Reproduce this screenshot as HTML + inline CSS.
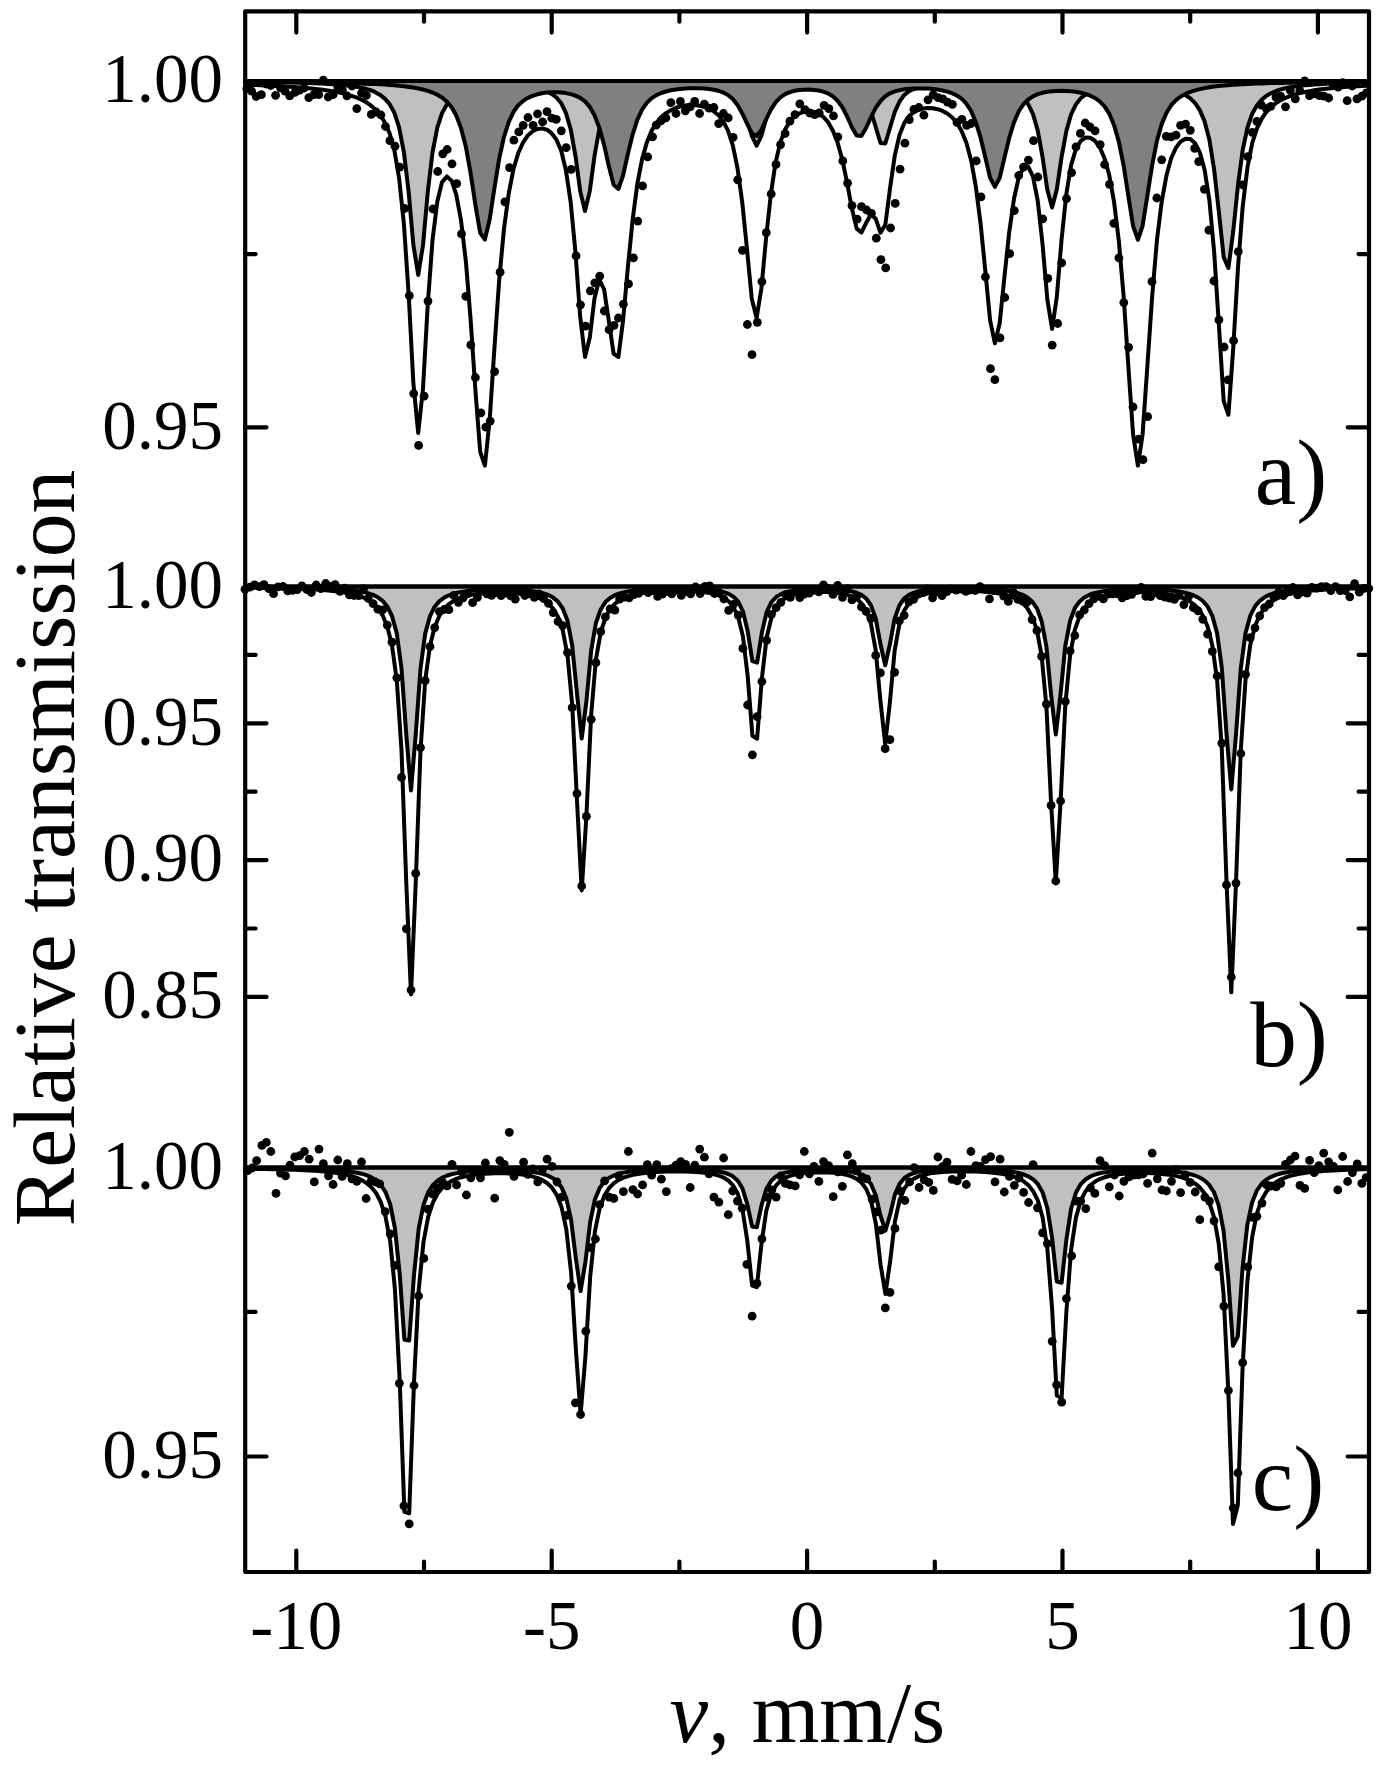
<!DOCTYPE html>
<html lang="en"><head><meta charset="utf-8"><title>Relative transmission spectra</title>
<style>
html,body{margin:0;padding:0;background:#fff}
body{width:1383px;height:1770px;overflow:hidden;font-family:"Liberation Serif",serif}
svg{display:block}
text{fill:#000}
</style></head><body>
<svg width="1383" height="1770" viewBox="0 0 1383 1770">
<rect width="1383" height="1770" fill="#fff"/>
<g id="pa">
<path d="M245.2,81.9 L246.6,81.9 L251.4,82.0 L256.2,82.0 L260.9,82.1 L265.7,82.1 L270.5,82.2 L275.2,82.3 L280.0,82.3 L284.8,82.4 L289.5,82.5 L294.3,82.6 L299.0,82.7 L303.8,82.9 L308.6,83.0 L313.3,83.2 L318.1,83.4 L322.9,83.6 L327.6,83.9 L332.4,84.2 L337.2,84.5 L341.9,84.9 L346.7,85.4 L351.5,86.0 L356.2,86.7 L361.0,87.6 L365.8,88.8 L370.5,90.2 L375.3,92.2 L380.1,94.9 L384.8,98.6 L389.6,104.1 L394.4,112.8 L399.1,127.4 L403.9,152.3 L408.7,192.5 L413.4,245.1 L418.2,275.0 L423.0,245.2 L427.7,192.6 L432.5,152.5 L437.3,127.7 L442.0,113.2 L446.8,104.5 L451.6,99.1 L456.3,95.4 L461.1,92.8 L465.9,91.0 L470.6,89.6 L475.4,88.6 L480.2,87.8 L484.9,87.2 L489.7,86.8 L494.5,86.5 L499.2,86.3 L504.0,86.2 L508.8,86.2 L513.5,86.2 L518.3,86.4 L523.1,86.7 L527.8,87.2 L532.6,87.8 L537.4,88.6 L542.1,89.8 L546.9,91.5 L551.6,93.9 L556.4,97.5 L561.2,103.2 L565.9,112.9 L570.7,129.4 L575.5,156.1 L580.2,191.1 L585.0,211.0 L589.8,191.1 L594.5,156.0 L599.3,129.2 L604.1,112.7 L608.8,103.0 L613.6,97.2 L618.4,93.5 L623.1,91.0 L627.9,89.3 L632.7,88.0 L637.4,87.1 L642.2,86.4 L647.0,85.8 L651.7,85.4 L656.5,85.0 L661.3,84.8 L666.0,84.6 L670.8,84.5 L675.6,84.4 L680.3,84.3 L685.1,84.4 L689.9,84.4 L694.6,84.6 L699.4,84.8 L704.2,85.1 L708.9,85.5 L713.7,86.1 L718.5,86.9 L723.2,88.1 L728.0,89.8 L732.8,92.6 L737.5,97.4 L742.3,105.5 L747.1,118.6 L751.8,135.8 L756.6,145.6 L761.4,135.8 L766.1,118.7 L770.9,105.5 L775.6,97.5 L780.4,92.7 L785.2,89.9 L789.9,88.2 L794.7,87.1 L799.5,86.3 L804.2,85.8 L809.0,85.4 L813.8,85.2 L818.5,85.2 L823.3,85.2 L828.1,85.3 L832.8,85.6 L837.6,86.0 L842.4,86.7 L847.1,87.6 L851.9,89.0 L856.7,91.2 L861.4,94.8 L866.2,100.9 L871.0,111.3 L875.7,127.0 L880.5,143.0 L885.3,143.5 L890.0,127.8 L894.8,111.9 L899.6,101.3 L904.3,95.0 L909.1,91.2 L913.9,89.0 L918.6,87.5 L923.4,86.6 L928.2,85.9 L932.9,85.4 L937.7,85.0 L942.5,84.8 L947.2,84.7 L952.0,84.6 L956.8,84.5 L961.5,84.6 L966.3,84.7 L971.1,84.8 L975.8,85.0 L980.6,85.3 L985.4,85.6 L990.1,86.1 L994.9,86.6 L999.7,87.4 L1004.4,88.4 L1009.2,89.8 L1014.0,91.6 L1018.7,94.2 L1023.5,98.0 L1028.2,104.1 L1033.0,114.1 L1037.8,130.8 L1042.5,156.8 L1047.3,189.5 L1052.1,207.5 L1056.8,189.6 L1061.6,156.9 L1066.4,130.9 L1071.1,114.3 L1075.9,104.4 L1080.7,98.3 L1085.4,94.6 L1090.2,92.0 L1095.0,90.3 L1099.7,89.0 L1104.5,88.1 L1109.3,87.4 L1114.0,86.9 L1118.8,86.6 L1123.6,86.4 L1128.3,86.2 L1133.1,86.2 L1137.9,86.3 L1142.6,86.4 L1147.4,86.6 L1152.2,87.0 L1156.9,87.4 L1161.7,88.0 L1166.5,88.8 L1171.2,89.8 L1176.0,91.1 L1180.8,92.8 L1185.5,95.1 L1190.3,98.4 L1195.1,103.1 L1199.8,110.1 L1204.6,121.4 L1209.4,139.7 L1214.1,169.2 L1218.9,212.1 L1223.7,257.2 L1228.4,267.9 L1233.2,231.6 L1238.0,184.9 L1242.7,149.9 L1247.5,127.5 L1252.2,113.7 L1257.0,105.2 L1261.8,99.6 L1266.5,95.8 L1271.3,93.1 L1276.1,91.0 L1280.8,89.4 L1285.6,88.2 L1290.4,87.3 L1295.1,86.5 L1299.9,85.8 L1304.7,85.3 L1309.4,84.9 L1314.2,84.5 L1319.0,84.2 L1323.7,83.9 L1328.5,83.6 L1333.3,83.4 L1338.0,83.2 L1342.8,83.1 L1347.6,82.9 L1352.3,82.8 L1357.1,82.7 L1361.9,82.6 L1366.6,82.5 L1369.0,82.4 L1369.0,81.0 L245.2,81.0 Z" fill="#c0c0c0" stroke="#000" stroke-width="4.0" stroke-linejoin="round"/>
<path d="M245.2,81.8 L246.6,81.8 L251.4,81.9 L256.2,81.9 L260.9,81.9 L265.7,81.9 L270.5,82.0 L275.2,82.0 L280.0,82.1 L284.8,82.1 L289.5,82.1 L294.3,82.2 L299.0,82.2 L303.8,82.3 L308.6,82.4 L313.3,82.4 L318.1,82.5 L322.9,82.6 L327.6,82.7 L332.4,82.7 L337.2,82.8 L341.9,82.9 L346.7,83.1 L351.5,83.2 L356.2,83.3 L361.0,83.5 L365.8,83.7 L370.5,83.9 L375.3,84.1 L380.1,84.3 L384.8,84.6 L389.6,85.0 L394.4,85.3 L399.1,85.8 L403.9,86.3 L408.7,86.9 L413.4,87.6 L418.2,88.5 L423.0,89.5 L427.7,90.9 L432.5,92.5 L437.3,94.7 L442.0,97.5 L446.8,101.5 L451.6,107.2 L456.3,115.6 L461.1,128.4 L465.9,147.1 L470.6,173.1 L475.4,204.9 L480.2,232.9 L484.9,239.5 L489.7,219.3 L494.5,187.6 L499.2,158.6 L504.0,136.8 L508.8,121.8 L513.5,111.8 L518.3,105.2 L523.1,100.9 L527.8,97.9 L532.6,95.8 L537.4,94.3 L542.1,93.3 L546.9,92.6 L551.6,92.3 L556.4,92.2 L561.2,92.5 L565.9,93.1 L570.7,94.1 L575.5,95.6 L580.2,97.9 L585.0,101.4 L589.8,106.9 L594.5,115.2 L599.3,127.6 L604.1,144.9 L608.8,166.0 L613.6,184.7 L618.4,189.0 L623.1,175.3 L627.9,153.9 L632.7,134.3 L637.4,119.6 L642.2,109.4 L647.0,102.6 L651.7,98.1 L656.5,95.1 L661.3,93.0 L666.0,91.5 L670.8,90.3 L675.6,89.5 L680.3,88.9 L685.1,88.5 L689.9,88.3 L694.6,88.2 L699.4,88.3 L704.2,88.5 L708.9,89.0 L713.7,89.7 L718.5,90.8 L723.2,92.4 L728.0,95.0 L732.8,99.0 L737.5,105.0 L742.3,113.4 L747.1,123.7 L751.8,133.2 L756.6,136.0 L761.4,129.8 L766.1,119.4 L770.9,109.7 L775.6,102.4 L780.4,97.4 L785.2,94.1 L789.9,92.1 L794.7,90.8 L799.5,90.0 L804.2,89.7 L809.0,89.6 L813.8,89.9 L818.5,90.5 L823.3,91.6 L828.1,93.5 L832.8,96.3 L837.6,100.8 L842.4,107.4 L847.1,116.5 L851.9,127.2 L856.7,135.6 L861.4,135.9 L866.2,127.8 L871.0,117.1 L875.7,107.8 L880.5,101.0 L885.3,96.3 L890.0,93.3 L894.8,91.4 L899.6,90.1 L904.3,89.3 L909.1,88.7 L913.9,88.5 L918.6,88.4 L923.4,88.4 L928.2,88.6 L932.9,89.0 L937.7,89.6 L942.5,90.5 L947.2,91.6 L952.0,93.2 L956.8,95.5 L961.5,98.7 L966.3,103.6 L971.1,111.0 L975.8,122.1 L980.6,137.7 L985.4,157.7 L990.1,177.7 L994.9,186.9 L999.7,177.8 L1004.4,157.9 L1009.2,138.0 L1014.0,122.4 L1018.7,111.5 L1023.5,104.2 L1028.2,99.5 L1033.0,96.3 L1037.8,94.2 L1042.5,92.8 L1047.3,91.8 L1052.1,91.2 L1056.8,90.9 L1061.6,90.8 L1066.4,90.9 L1071.1,91.2 L1075.9,91.8 L1080.7,92.7 L1085.4,93.9 L1090.2,95.7 L1095.0,98.0 L1099.7,101.4 L1104.5,106.3 L1109.3,113.7 L1114.0,124.9 L1118.8,141.6 L1123.6,165.3 L1128.3,195.7 L1133.1,226.0 L1137.9,239.8 L1142.6,225.9 L1147.4,195.4 L1152.2,164.8 L1156.9,141.0 L1161.7,124.1 L1166.5,112.8 L1171.2,105.2 L1176.0,100.1 L1180.8,96.5 L1185.5,93.9 L1190.3,91.9 L1195.1,90.4 L1199.8,89.1 L1204.6,88.1 L1209.4,87.3 L1214.1,86.6 L1218.9,86.1 L1223.7,85.6 L1228.4,85.2 L1233.2,84.8 L1238.0,84.5 L1242.7,84.2 L1247.5,84.0 L1252.2,83.8 L1257.0,83.6 L1261.8,83.4 L1266.5,83.3 L1271.3,83.1 L1276.1,83.0 L1280.8,82.9 L1285.6,82.8 L1290.4,82.7 L1295.1,82.6 L1299.9,82.5 L1304.7,82.5 L1309.4,82.4 L1314.2,82.3 L1319.0,82.3 L1323.7,82.2 L1328.5,82.2 L1333.3,82.1 L1338.0,82.1 L1342.8,82.0 L1347.6,82.0 L1352.3,82.0 L1357.1,81.9 L1361.9,81.9 L1366.6,81.9 L1369.0,81.8 L1369.0,81.0 L245.2,81.0 Z" fill="#808080" stroke="#000" stroke-width="4.0" stroke-linejoin="round"/>
<path d="M245.2,84.8 L246.6,84.8 L251.4,85.0 L256.2,85.1 L260.9,85.3 L265.7,85.5 L270.5,85.7 L275.2,85.9 L280.0,86.2 L284.8,86.4 L289.5,86.7 L294.3,87.0 L299.0,87.4 L303.8,87.8 L308.6,88.2 L313.3,88.7 L318.1,89.2 L322.9,89.8 L327.6,90.5 L332.4,91.2 L337.2,92.1 L341.9,93.1 L346.7,94.3 L351.5,95.8 L356.2,97.4 L361.0,99.5 L365.8,102.0 L370.5,105.2 L375.3,109.4 L380.1,114.8 L384.8,122.3 L389.6,133.3 L394.4,150.3 L399.1,178.1 L403.9,223.9 L408.7,294.9 L413.4,383.5 L418.2,433.0 L423.0,388.6 L427.7,305.4 L432.5,240.3 L437.3,201.5 L442.0,182.3 L446.8,176.4 L451.6,180.7 L456.3,194.9 L461.1,220.9 L465.9,261.7 L470.6,319.5 L475.4,390.2 L480.2,451.8 L484.9,465.6 L489.7,419.6 L494.5,347.0 L499.2,279.9 L504.0,228.8 L508.8,193.0 L513.5,168.9 L518.3,152.9 L523.1,142.4 L527.8,135.5 L532.6,131.2 L537.4,128.9 L542.1,128.4 L546.9,129.7 L551.6,133.2 L556.4,139.6 L561.2,150.8 L565.9,170.1 L570.7,202.4 L575.5,252.8 L580.2,316.8 L585.0,357.0 L589.8,337.6 L594.5,298.2 L599.3,279.6 L604.1,289.4 L608.8,320.7 L613.6,353.6 L618.4,357.0 L623.1,320.2 L627.9,266.9 L632.7,219.2 L637.4,183.5 L642.2,158.7 L647.0,141.9 L651.7,130.5 L656.5,122.7 L661.3,117.1 L666.0,113.1 L670.8,110.2 L675.6,108.0 L680.3,106.5 L685.1,105.6 L689.9,105.1 L694.6,105.1 L699.4,105.7 L704.2,106.8 L708.9,108.6 L713.7,111.3 L718.5,115.3 L723.2,121.4 L728.0,130.7 L732.8,145.3 L737.5,168.2 L742.3,202.8 L747.1,250.1 L751.8,299.1 L756.6,318.0 L761.4,288.5 L766.1,237.9 L770.9,193.7 L775.6,162.4 L780.4,142.1 L785.2,129.3 L789.9,121.4 L794.7,116.4 L799.5,113.4 L804.2,111.8 L809.0,111.3 L813.8,111.8 L818.5,113.6 L823.3,116.9 L828.1,122.2 L832.8,130.4 L837.6,142.6 L842.4,160.0 L847.1,182.9 L851.9,208.6 L856.7,228.6 L861.4,232.5 L866.2,222.8 L871.0,214.2 L875.7,218.7 L880.5,232.8 L885.3,224.9 L890.0,188.5 L894.8,155.4 L899.6,134.7 L904.3,122.9 L909.1,116.1 L913.9,112.1 L918.6,109.7 L923.4,108.4 L928.2,107.9 L932.9,108.2 L937.7,109.2 L942.5,110.9 L947.2,113.5 L952.0,117.3 L956.8,122.8 L961.5,130.7 L966.3,142.5 L971.1,160.2 L975.8,186.4 L980.6,223.7 L985.4,271.8 L990.1,320.4 L994.9,343.4 L999.7,323.0 L1004.4,277.2 L1009.2,232.2 L1014.0,198.8 L1018.7,177.7 L1023.5,167.3 L1028.2,166.6 L1033.0,176.7 L1037.8,201.2 L1042.5,243.9 L1047.3,299.1 L1052.1,329.0 L1056.8,296.9 L1061.6,239.2 L1066.4,193.6 L1071.1,165.1 L1075.9,149.1 L1080.7,140.9 L1085.4,137.6 L1090.2,137.7 L1095.0,140.8 L1099.7,147.3 L1104.5,158.2 L1109.3,175.3 L1114.0,201.6 L1118.8,240.7 L1123.6,295.8 L1128.3,365.7 L1133.1,434.6 L1137.9,465.6 L1142.6,434.5 L1147.4,365.7 L1152.2,295.8 L1156.9,240.6 L1161.7,201.6 L1166.5,175.3 L1171.2,158.3 L1176.0,147.6 L1180.8,141.4 L1185.5,138.7 L1190.3,139.1 L1195.1,143.2 L1199.8,152.4 L1204.6,169.7 L1209.4,200.4 L1214.1,251.2 L1218.9,325.3 L1223.7,401.2 L1228.4,414.8 L1233.2,348.8 L1238.0,267.3 L1242.7,206.4 L1247.5,167.2 L1252.2,143.2 L1257.0,128.3 L1261.8,118.5 L1266.5,111.7 L1271.3,106.8 L1276.1,103.0 L1280.8,100.1 L1285.6,97.8 L1290.4,95.9 L1295.1,94.4 L1299.9,93.1 L1304.7,92.0 L1309.4,91.1 L1314.2,90.3 L1319.0,89.6 L1323.7,89.0 L1328.5,88.5 L1333.3,88.0 L1338.0,87.6 L1342.8,87.2 L1347.6,86.8 L1352.3,86.5 L1357.1,86.2 L1361.9,86.0 L1366.6,85.7 L1369.0,85.6" fill="none" stroke="#000" stroke-width="4.0" stroke-linejoin="round"/>
<g fill="#000"><circle cx="246.8" cy="88.5" r="4.4"/><circle cx="251.6" cy="91.2" r="4.4"/><circle cx="256.2" cy="96.4" r="4.4"/><circle cx="261.4" cy="94.7" r="4.4"/><circle cx="266.0" cy="84.0" r="4.4"/><circle cx="270.7" cy="85.5" r="4.4"/><circle cx="275.6" cy="95.3" r="4.4"/><circle cx="280.5" cy="87.8" r="4.4"/><circle cx="285.1" cy="91.2" r="4.4"/><circle cx="289.7" cy="95.9" r="4.4"/><circle cx="295.0" cy="92.4" r="4.4"/><circle cx="299.6" cy="90.1" r="4.4"/><circle cx="304.2" cy="88.0" r="4.4"/><circle cx="308.8" cy="97.6" r="4.4"/><circle cx="314.0" cy="94.7" r="4.4"/><circle cx="318.7" cy="94.7" r="4.4"/><circle cx="323.3" cy="80.2" r="4.4"/><circle cx="328.2" cy="97.0" r="4.4"/><circle cx="333.1" cy="94.7" r="4.4"/><circle cx="337.8" cy="87.8" r="4.4"/><circle cx="342.4" cy="90.1" r="4.4"/><circle cx="347.0" cy="95.9" r="4.4"/><circle cx="352.0" cy="86.0" r="4.4"/><circle cx="356.8" cy="108.6" r="4.4"/><circle cx="361.5" cy="93.0" r="4.4"/><circle cx="366.4" cy="95.3" r="4.4"/><circle cx="371.3" cy="114.4" r="4.4"/><circle cx="376.1" cy="112.0" r="4.4"/><circle cx="380.9" cy="115.0" r="4.4"/><circle cx="385.5" cy="126.5" r="4.4"/><circle cx="389.9" cy="140.7" r="4.4"/><circle cx="395.0" cy="146.2" r="4.4"/><circle cx="399.8" cy="167.1" r="4.4"/><circle cx="404.7" cy="208.5" r="4.4"/><circle cx="409.3" cy="295.6" r="4.4"/><circle cx="413.7" cy="393.6" r="4.4"/><circle cx="418.6" cy="445.4" r="4.4"/><circle cx="424.1" cy="396.2" r="4.4"/><circle cx="428.0" cy="301.1" r="4.4"/><circle cx="432.9" cy="209.0" r="4.4"/><circle cx="437.7" cy="171.5" r="4.4"/><circle cx="442.8" cy="153.9" r="4.4"/><circle cx="447.2" cy="149.5" r="4.4"/><circle cx="452.0" cy="163.8" r="4.4"/><circle cx="456.7" cy="183.6" r="4.4"/><circle cx="461.5" cy="233.9" r="4.4"/><circle cx="465.9" cy="296.4" r="4.4"/><circle cx="470.8" cy="344.9" r="4.4"/><circle cx="475.4" cy="377.5" r="4.4"/><circle cx="480.9" cy="412.8" r="4.4"/><circle cx="485.8" cy="427.1" r="4.4"/><circle cx="490.2" cy="421.1" r="4.4"/><circle cx="494.6" cy="371.6" r="4.4"/><circle cx="500.1" cy="272.2" r="4.4"/><circle cx="504.9" cy="201.9" r="4.4"/><circle cx="509.5" cy="167.6" r="4.4"/><circle cx="513.9" cy="140.2" r="4.4"/><circle cx="518.8" cy="131.9" r="4.4"/><circle cx="523.2" cy="125.3" r="4.4"/><circle cx="528.0" cy="117.5" r="4.4"/><circle cx="533.1" cy="125.3" r="4.4"/><circle cx="537.5" cy="113.8" r="4.4"/><circle cx="542.6" cy="121.9" r="4.4"/><circle cx="547.0" cy="111.6" r="4.4"/><circle cx="551.8" cy="118.2" r="4.4"/><circle cx="556.3" cy="119.3" r="4.4"/><circle cx="561.3" cy="130.8" r="4.4"/><circle cx="566.2" cy="147.7" r="4.4"/><circle cx="571.2" cy="169.3" r="4.4"/><circle cx="576.1" cy="255.9" r="4.4"/><circle cx="580.5" cy="304.8" r="4.4"/><circle cx="585.6" cy="326.2" r="4.4"/><circle cx="590.4" cy="290.9" r="4.4"/><circle cx="594.8" cy="282.8" r="4.4"/><circle cx="599.7" cy="276.2" r="4.4"/><circle cx="604.3" cy="311.0" r="4.4"/><circle cx="609.1" cy="329.7" r="4.4"/><circle cx="614.0" cy="325.3" r="4.4"/><circle cx="618.4" cy="318.0" r="4.4"/><circle cx="623.4" cy="304.1" r="4.4"/><circle cx="628.5" cy="283.9" r="4.4"/><circle cx="633.4" cy="257.9" r="4.4"/><circle cx="637.8" cy="221.1" r="4.4"/><circle cx="642.6" cy="185.8" r="4.4"/><circle cx="647.7" cy="156.8" r="4.4"/><circle cx="652.6" cy="136.8" r="4.4"/><circle cx="656.2" cy="125.2" r="4.4"/><circle cx="661.0" cy="120.8" r="4.4"/><circle cx="665.9" cy="117.9" r="4.4"/><circle cx="670.9" cy="102.7" r="4.4"/><circle cx="676.0" cy="113.5" r="4.4"/><circle cx="680.4" cy="101.4" r="4.4"/><circle cx="685.3" cy="110.8" r="4.4"/><circle cx="690.1" cy="106.9" r="4.4"/><circle cx="694.7" cy="101.4" r="4.4"/><circle cx="699.6" cy="113.5" r="4.4"/><circle cx="704.4" cy="104.2" r="4.4"/><circle cx="709.0" cy="108.2" r="4.4"/><circle cx="713.9" cy="107.5" r="4.4"/><circle cx="718.7" cy="123.6" r="4.4"/><circle cx="723.4" cy="113.5" r="4.4"/><circle cx="728.2" cy="117.9" r="4.4"/><circle cx="733.1" cy="137.3" r="4.4"/><circle cx="737.7" cy="179.8" r="4.4"/><circle cx="742.5" cy="250.3" r="4.4"/><circle cx="747.4" cy="324.5" r="4.4"/><circle cx="752.0" cy="354.7" r="4.4"/><circle cx="757.3" cy="322.3" r="4.4"/><circle cx="761.9" cy="281.6" r="4.4"/><circle cx="766.3" cy="232.7" r="4.4"/><circle cx="771.2" cy="193.9" r="4.4"/><circle cx="776.0" cy="164.4" r="4.4"/><circle cx="780.6" cy="144.6" r="4.4"/><circle cx="785.1" cy="133.5" r="4.4"/><circle cx="789.9" cy="121.2" r="4.4"/><circle cx="795.0" cy="114.6" r="4.4"/><circle cx="799.8" cy="103.8" r="4.4"/><circle cx="804.9" cy="109.7" r="4.4"/><circle cx="809.7" cy="113.0" r="4.4"/><circle cx="814.6" cy="114.6" r="4.4"/><circle cx="819.2" cy="113.0" r="4.4"/><circle cx="824.1" cy="105.3" r="4.4"/><circle cx="828.9" cy="108.6" r="4.4"/><circle cx="833.5" cy="115.9" r="4.4"/><circle cx="837.9" cy="136.8" r="4.4"/><circle cx="842.8" cy="160.9" r="4.4"/><circle cx="847.6" cy="183.1" r="4.4"/><circle cx="852.0" cy="205.6" r="4.4"/><circle cx="857.1" cy="219.2" r="4.4"/><circle cx="861.5" cy="206.7" r="4.4"/><circle cx="866.6" cy="210.0" r="4.4"/><circle cx="871.4" cy="213.3" r="4.4"/><circle cx="876.3" cy="238.2" r="4.4"/><circle cx="880.9" cy="259.6" r="4.4"/><circle cx="885.7" cy="267.9" r="4.4"/><circle cx="890.6" cy="228.0" r="4.4"/><circle cx="895.2" cy="203.4" r="4.4"/><circle cx="900.1" cy="169.2" r="4.4"/><circle cx="904.9" cy="143.2" r="4.4"/><circle cx="909.3" cy="119.7" r="4.4"/><circle cx="913.9" cy="109.3" r="4.4"/><circle cx="918.8" cy="107.5" r="4.4"/><circle cx="923.9" cy="115.2" r="4.4"/><circle cx="928.0" cy="99.8" r="4.4"/><circle cx="933.2" cy="94.8" r="4.4"/><circle cx="938.1" cy="97.7" r="4.4"/><circle cx="942.7" cy="98.8" r="4.4"/><circle cx="947.5" cy="102.1" r="4.4"/><circle cx="952.4" cy="104.3" r="4.4"/><circle cx="957.0" cy="122.4" r="4.4"/><circle cx="961.9" cy="119.3" r="4.4"/><circle cx="966.7" cy="125.3" r="4.4"/><circle cx="971.3" cy="123.5" r="4.4"/><circle cx="976.2" cy="160.9" r="4.4"/><circle cx="981.0" cy="196.9" r="4.4"/><circle cx="985.4" cy="276.8" r="4.4"/><circle cx="990.5" cy="368.7" r="4.4"/><circle cx="994.9" cy="379.7" r="4.4"/><circle cx="1000.0" cy="337.9" r="4.4"/><circle cx="1004.8" cy="297.5" r="4.4"/><circle cx="1009.7" cy="253.7" r="4.4"/><circle cx="1014.3" cy="210.7" r="4.4"/><circle cx="1018.7" cy="175.5" r="4.4"/><circle cx="1023.5" cy="167.1" r="4.4"/><circle cx="1028.4" cy="160.1" r="4.4"/><circle cx="1033.5" cy="140.7" r="4.4"/><circle cx="1037.9" cy="177.0" r="4.4"/><circle cx="1042.7" cy="218.9" r="4.4"/><circle cx="1047.8" cy="278.4" r="4.4"/><circle cx="1052.2" cy="345.1" r="4.4"/><circle cx="1057.7" cy="323.5" r="4.4"/><circle cx="1061.7" cy="262.9" r="4.4"/><circle cx="1066.5" cy="198.6" r="4.4"/><circle cx="1071.6" cy="172.6" r="4.4"/><circle cx="1076.0" cy="146.8" r="4.4"/><circle cx="1080.4" cy="133.4" r="4.4"/><circle cx="1085.2" cy="123.0" r="4.4"/><circle cx="1090.1" cy="127.0" r="4.4"/><circle cx="1095.1" cy="130.8" r="4.4"/><circle cx="1100.2" cy="144.6" r="4.4"/><circle cx="1104.6" cy="164.5" r="4.4"/><circle cx="1109.5" cy="184.3" r="4.4"/><circle cx="1113.9" cy="223.3" r="4.4"/><circle cx="1118.9" cy="257.9" r="4.4"/><circle cx="1123.8" cy="302.6" r="4.4"/><circle cx="1128.6" cy="347.3" r="4.4"/><circle cx="1133.0" cy="406.8" r="4.4"/><circle cx="1138.6" cy="439.2" r="4.4"/><circle cx="1143.0" cy="459.7" r="4.4"/><circle cx="1147.6" cy="416.7" r="4.4"/><circle cx="1152.0" cy="281.7" r="4.4"/><circle cx="1156.8" cy="198.0" r="4.4"/><circle cx="1161.7" cy="159.8" r="4.4"/><circle cx="1166.3" cy="136.3" r="4.4"/><circle cx="1171.2" cy="136.9" r="4.4"/><circle cx="1176.0" cy="135.2" r="4.4"/><circle cx="1180.6" cy="125.3" r="4.4"/><circle cx="1185.5" cy="124.1" r="4.4"/><circle cx="1190.3" cy="130.3" r="4.4"/><circle cx="1194.7" cy="148.4" r="4.4"/><circle cx="1198.7" cy="161.6" r="4.4"/><circle cx="1204.4" cy="189.3" r="4.4"/><circle cx="1208.9" cy="230.2" r="4.4"/><circle cx="1213.9" cy="281.0" r="4.4"/><circle cx="1218.9" cy="319.9" r="4.4"/><circle cx="1224.1" cy="347.0" r="4.4"/><circle cx="1228.1" cy="379.8" r="4.4"/><circle cx="1233.6" cy="340.7" r="4.4"/><circle cx="1238.3" cy="251.6" r="4.4"/><circle cx="1242.8" cy="185.0" r="4.4"/><circle cx="1247.8" cy="156.7" r="4.4"/><circle cx="1252.3" cy="132.3" r="4.4"/><circle cx="1256.8" cy="121.5" r="4.4"/><circle cx="1261.4" cy="105.2" r="4.4"/><circle cx="1266.3" cy="108.6" r="4.4"/><circle cx="1270.8" cy="106.3" r="4.4"/><circle cx="1276.0" cy="97.3" r="4.4"/><circle cx="1280.6" cy="96.2" r="4.4"/><circle cx="1285.5" cy="106.8" r="4.4"/><circle cx="1290.3" cy="90.5" r="4.4"/><circle cx="1295.3" cy="98.9" r="4.4"/><circle cx="1299.8" cy="90.5" r="4.4"/><circle cx="1304.7" cy="80.8" r="4.4"/><circle cx="1309.5" cy="95.7" r="4.4"/><circle cx="1314.5" cy="93.9" r="4.4"/><circle cx="1319.4" cy="95.7" r="4.4"/><circle cx="1324.0" cy="96.2" r="4.4"/><circle cx="1328.7" cy="98.0" r="4.4"/><circle cx="1333.2" cy="85.5" r="4.4"/><circle cx="1338.2" cy="87.1" r="4.4"/><circle cx="1342.7" cy="82.6" r="4.4"/><circle cx="1347.2" cy="100.7" r="4.4"/><circle cx="1352.2" cy="86.0" r="4.4"/><circle cx="1357.0" cy="98.9" r="4.4"/><circle cx="1361.9" cy="96.2" r="4.4"/><circle cx="1366.4" cy="92.8" r="4.4"/></g>
</g>
<g id="pb">
<path d="M245.2,587.1 L249.8,587.1 L254.5,587.1 L259.3,587.2 L264.0,587.2 L268.8,587.3 L273.5,587.3 L278.2,587.4 L283.0,587.4 L287.7,587.5 L292.5,587.5 L297.2,587.6 L301.9,587.7 L306.7,587.8 L311.4,587.9 L316.2,588.0 L320.9,588.2 L325.7,588.4 L330.4,588.6 L335.1,588.8 L339.9,589.1 L344.6,589.5 L349.4,589.9 L354.1,590.5 L358.8,591.2 L363.6,592.1 L368.3,593.3 L373.1,594.9 L377.8,597.3 L382.6,600.9 L387.3,606.5 L392.0,616.0 L396.8,633.4 L401.5,668.4 L406.3,735.0 L411.0,790.4 L415.7,735.0 L420.5,668.4 L425.2,633.6 L430.0,616.1 L434.7,606.7 L439.4,601.1 L444.2,597.6 L448.9,595.3 L453.7,593.7 L458.4,592.5 L463.2,591.7 L467.9,591.0 L472.6,590.6 L477.4,590.2 L482.1,589.9 L486.9,589.7 L491.6,589.6 L496.3,589.5 L501.1,589.5 L505.8,589.6 L510.6,589.7 L515.3,589.8 L520.1,590.0 L524.8,590.4 L529.5,590.8 L534.3,591.4 L539.0,592.2 L543.8,593.4 L548.5,595.1 L553.2,597.6 L558.0,601.6 L562.7,608.4 L567.5,620.8 L572.2,645.6 L577.0,693.6 L581.7,738.5 L586.4,701.3 L591.2,650.3 L595.9,623.0 L600.7,609.5 L605.4,602.1 L610.1,597.9 L614.9,595.2 L619.6,593.4 L624.4,592.1 L629.1,591.2 L633.9,590.5 L638.6,590.0 L643.3,589.7 L648.1,589.4 L652.8,589.1 L657.6,589.0 L662.3,588.8 L667.0,588.8 L671.8,588.7 L676.5,588.7 L681.3,588.7 L686.0,588.7 L690.7,588.8 L695.5,589.0 L700.2,589.1 L705.0,589.4 L709.7,589.8 L714.5,590.3 L719.2,591.1 L723.9,592.2 L728.7,593.9 L733.4,596.7 L738.2,601.7 L742.9,611.3 L747.6,630.8 L752.4,661.1 L757.1,662.6 L761.9,632.4 L766.6,612.2 L771.4,602.2 L776.1,597.0 L780.8,594.1 L785.6,592.3 L790.3,591.2 L795.1,590.5 L799.8,590.0 L804.5,589.6 L809.3,589.4 L814.0,589.3 L818.8,589.2 L823.5,589.2 L828.3,589.3 L833.0,589.4 L837.7,589.7 L842.5,590.1 L847.2,590.7 L852.0,591.5 L856.7,592.8 L861.4,594.9 L866.2,598.5 L870.9,605.1 L875.7,618.3 L880.4,643.7 L885.2,665.2 L889.9,644.3 L894.6,618.7 L899.4,605.3 L904.1,598.5 L908.9,594.9 L913.6,592.8 L918.3,591.4 L923.1,590.6 L927.8,589.9 L932.6,589.5 L937.3,589.2 L942.0,589.0 L946.8,588.8 L951.5,588.7 L956.3,588.7 L961.0,588.7 L965.8,588.7 L970.5,588.7 L975.2,588.8 L980.0,588.9 L984.7,589.1 L989.5,589.3 L994.2,589.6 L998.9,589.9 L1003.7,590.4 L1008.4,591.1 L1013.2,591.9 L1017.9,593.1 L1022.7,594.8 L1027.4,597.4 L1032.1,601.4 L1036.9,608.3 L1041.6,621.0 L1046.4,646.5 L1051.1,694.9 L1055.8,734.4 L1060.6,693.8 L1065.3,645.8 L1070.1,620.8 L1074.8,608.2 L1079.6,601.4 L1084.3,597.4 L1089.0,594.9 L1093.8,593.2 L1098.5,592.1 L1103.3,591.3 L1108.0,590.7 L1112.7,590.2 L1117.5,589.9 L1122.2,589.7 L1127.0,589.5 L1131.7,589.4 L1136.4,589.4 L1141.2,589.3 L1145.9,589.4 L1150.7,589.5 L1155.4,589.6 L1160.2,589.8 L1164.9,590.1 L1169.6,590.5 L1174.4,590.9 L1179.1,591.6 L1183.9,592.4 L1188.6,593.6 L1193.3,595.2 L1198.1,597.5 L1202.8,601.0 L1207.6,606.5 L1212.3,615.9 L1217.1,633.2 L1221.8,667.8 L1226.5,733.9 L1231.3,789.4 L1236.0,734.6 L1240.8,668.2 L1245.5,633.3 L1250.2,615.9 L1255.0,606.4 L1259.7,600.8 L1264.5,597.3 L1269.2,594.9 L1274.0,593.2 L1278.7,592.0 L1283.4,591.1 L1288.2,590.4 L1292.9,589.9 L1297.7,589.5 L1302.4,589.1 L1307.1,588.8 L1311.9,588.6 L1316.6,588.4 L1321.4,588.2 L1326.1,588.0 L1330.9,587.9 L1335.6,587.8 L1340.3,587.7 L1345.1,587.6 L1349.8,587.5 L1354.6,587.5 L1359.3,587.4 L1364.0,587.3 L1368.8,587.3 L1369.0,587.3 L1369.0,586.5 L245.2,586.5 Z" fill="#c0c0c0" stroke="#000" stroke-width="4.0" stroke-linejoin="round"/>
<path d="M245.2,587.7 L249.8,587.7 L254.5,587.8 L259.3,587.9 L264.0,587.9 L268.8,588.0 L273.5,588.1 L278.2,588.2 L283.0,588.3 L287.7,588.4 L292.5,588.6 L297.2,588.7 L301.9,588.9 L306.7,589.1 L311.4,589.3 L316.2,589.6 L320.9,589.9 L325.7,590.3 L330.4,590.7 L335.1,591.2 L339.9,591.7 L344.6,592.5 L349.4,593.3 L354.1,594.4 L358.8,595.8 L363.6,597.6 L368.3,600.1 L373.1,603.4 L377.8,608.2 L382.6,615.3 L387.3,626.5 L392.0,645.4 L396.8,680.4 L401.5,750.2 L406.3,883.4 L411.0,994.3 L415.7,883.5 L420.5,750.4 L425.2,680.6 L430.0,645.7 L434.7,626.9 L439.4,615.7 L444.2,608.7 L448.9,604.1 L453.7,600.8 L458.4,598.5 L463.2,596.8 L467.9,595.6 L472.6,594.6 L477.4,593.9 L482.1,593.4 L486.9,593.0 L491.6,592.7 L496.3,592.6 L501.1,592.6 L505.8,592.6 L510.6,592.8 L515.3,593.1 L520.1,593.6 L524.8,594.2 L529.5,595.1 L534.3,596.3 L539.0,597.9 L543.8,600.3 L548.5,603.6 L553.2,608.7 L558.0,616.7 L562.7,630.2 L567.5,655.1 L572.2,704.7 L577.0,800.7 L581.7,890.4 L586.4,816.1 L591.2,714.0 L595.9,659.6 L600.7,632.4 L605.4,617.8 L610.1,609.2 L614.9,603.8 L619.6,600.2 L624.4,597.7 L629.1,595.9 L633.9,594.6 L638.6,593.6 L643.3,592.8 L648.1,592.2 L652.8,591.8 L657.6,591.4 L662.3,591.2 L667.0,591.0 L671.8,590.9 L676.5,590.9 L681.3,590.9 L686.0,591.0 L690.7,591.2 L695.5,591.4 L700.2,591.8 L705.0,592.3 L709.7,593.1 L714.5,594.1 L719.2,595.6 L723.9,597.9 L728.7,601.3 L733.4,607.0 L738.2,617.0 L742.9,636.2 L747.6,675.0 L752.4,735.7 L757.1,738.7 L761.9,678.3 L766.6,637.8 L771.4,617.8 L776.1,607.5 L780.8,601.7 L785.6,598.2 L790.3,595.9 L795.1,594.4 L799.8,593.4 L804.5,592.7 L809.3,592.3 L814.0,592.0 L818.8,591.9 L823.5,591.9 L828.3,592.1 L833.0,592.4 L837.7,592.9 L842.5,593.7 L847.2,594.8 L852.0,596.5 L856.7,599.1 L861.4,603.3 L866.2,610.5 L870.9,623.7 L875.7,650.2 L880.4,700.8 L885.2,743.9 L889.9,702.1 L894.6,650.9 L899.4,624.0 L904.1,610.6 L908.9,603.3 L913.6,599.1 L918.3,596.4 L923.1,594.6 L927.8,593.4 L932.6,592.5 L937.3,591.9 L942.0,591.5 L946.8,591.2 L951.5,591.0 L956.3,590.9 L961.0,590.8 L965.8,590.9 L970.5,591.0 L975.2,591.1 L980.0,591.3 L984.7,591.7 L989.5,592.1 L994.2,592.7 L998.9,593.4 L1003.7,594.3 L1008.4,595.6 L1013.2,597.3 L1017.9,599.7 L1022.7,603.1 L1027.4,608.2 L1032.1,616.4 L1036.9,630.1 L1041.6,655.6 L1046.4,706.4 L1051.1,803.2 L1055.8,882.3 L1060.6,801.1 L1065.3,705.2 L1070.1,655.0 L1074.8,629.9 L1079.6,616.4 L1084.3,608.4 L1089.0,603.3 L1093.8,600.0 L1098.5,597.7 L1103.3,596.0 L1108.0,594.8 L1112.7,594.0 L1117.5,593.3 L1122.2,592.8 L1127.0,592.5 L1131.7,592.3 L1136.4,592.2 L1141.2,592.2 L1145.9,592.3 L1150.7,592.5 L1155.4,592.7 L1160.2,593.1 L1164.9,593.7 L1169.6,594.4 L1174.4,595.4 L1179.1,596.7 L1183.9,598.4 L1188.6,600.7 L1193.3,603.9 L1198.1,608.5 L1202.8,615.5 L1207.6,626.5 L1212.3,645.3 L1217.1,679.9 L1221.8,749.1 L1226.5,881.3 L1231.3,992.3 L1236.0,882.6 L1240.8,749.8 L1245.5,680.1 L1250.2,645.2 L1255.0,626.3 L1259.7,615.1 L1264.5,608.0 L1269.2,603.3 L1274.0,600.0 L1278.7,597.6 L1283.4,595.8 L1288.2,594.4 L1292.9,593.3 L1297.7,592.4 L1302.4,591.7 L1307.1,591.1 L1311.9,590.6 L1316.6,590.2 L1321.4,589.9 L1326.1,589.6 L1330.9,589.3 L1335.6,589.1 L1340.3,588.9 L1345.1,588.7 L1349.8,588.6 L1354.6,588.4 L1359.3,588.3 L1364.0,588.2 L1368.8,588.1 L1369.0,588.1" fill="none" stroke="#000" stroke-width="4.0" stroke-linejoin="round"/>
<g fill="#000"><circle cx="245.0" cy="589.3" r="4.4"/><circle cx="249.8" cy="587.2" r="4.4"/><circle cx="254.5" cy="584.9" r="4.4"/><circle cx="259.3" cy="586.6" r="4.4"/><circle cx="264.0" cy="584.7" r="4.4"/><circle cx="268.8" cy="588.7" r="4.4"/><circle cx="273.5" cy="593.7" r="4.4"/><circle cx="278.2" cy="586.8" r="4.4"/><circle cx="283.0" cy="586.5" r="4.4"/><circle cx="287.7" cy="590.8" r="4.4"/><circle cx="292.5" cy="590.4" r="4.4"/><circle cx="297.2" cy="589.6" r="4.4"/><circle cx="301.9" cy="585.9" r="4.4"/><circle cx="306.7" cy="589.5" r="4.4"/><circle cx="311.4" cy="592.5" r="4.4"/><circle cx="316.2" cy="585.0" r="4.4"/><circle cx="320.9" cy="588.7" r="4.4"/><circle cx="325.7" cy="583.5" r="4.4"/><circle cx="330.4" cy="586.3" r="4.4"/><circle cx="335.1" cy="584.7" r="4.4"/><circle cx="339.9" cy="591.3" r="4.4"/><circle cx="344.6" cy="588.1" r="4.4"/><circle cx="349.4" cy="594.9" r="4.4"/><circle cx="354.1" cy="595.5" r="4.4"/><circle cx="358.8" cy="595.6" r="4.4"/><circle cx="363.6" cy="588.6" r="4.4"/><circle cx="368.3" cy="598.5" r="4.4"/><circle cx="373.1" cy="603.7" r="4.4"/><circle cx="377.8" cy="609.1" r="4.4"/><circle cx="382.6" cy="609.9" r="4.4"/><circle cx="387.3" cy="625.1" r="4.4"/><circle cx="392.0" cy="642.2" r="4.4"/><circle cx="396.8" cy="677.8" r="4.4"/><circle cx="401.5" cy="777.4" r="4.4"/><circle cx="406.3" cy="928.8" r="4.4"/><circle cx="411.0" cy="990.0" r="4.4"/><circle cx="415.7" cy="873.4" r="4.4"/><circle cx="420.5" cy="747.6" r="4.4"/><circle cx="425.2" cy="680.7" r="4.4"/><circle cx="430.0" cy="646.7" r="4.4"/><circle cx="434.7" cy="627.6" r="4.4"/><circle cx="439.4" cy="611.6" r="4.4"/><circle cx="444.2" cy="609.5" r="4.4"/><circle cx="448.9" cy="609.7" r="4.4"/><circle cx="453.7" cy="595.5" r="4.4"/><circle cx="458.4" cy="602.3" r="4.4"/><circle cx="463.2" cy="597.8" r="4.4"/><circle cx="467.9" cy="593.6" r="4.4"/><circle cx="472.6" cy="602.7" r="4.4"/><circle cx="477.4" cy="597.3" r="4.4"/><circle cx="482.1" cy="589.3" r="4.4"/><circle cx="486.9" cy="593.8" r="4.4"/><circle cx="491.6" cy="595.4" r="4.4"/><circle cx="496.3" cy="592.4" r="4.4"/><circle cx="501.1" cy="595.7" r="4.4"/><circle cx="505.8" cy="592.9" r="4.4"/><circle cx="510.6" cy="595.8" r="4.4"/><circle cx="515.3" cy="599.1" r="4.4"/><circle cx="520.1" cy="591.5" r="4.4"/><circle cx="524.8" cy="595.5" r="4.4"/><circle cx="529.5" cy="593.8" r="4.4"/><circle cx="534.3" cy="597.3" r="4.4"/><circle cx="539.0" cy="593.9" r="4.4"/><circle cx="543.8" cy="598.6" r="4.4"/><circle cx="548.5" cy="603.4" r="4.4"/><circle cx="553.2" cy="612.6" r="4.4"/><circle cx="558.0" cy="621.5" r="4.4"/><circle cx="562.7" cy="625.7" r="4.4"/><circle cx="567.5" cy="652.6" r="4.4"/><circle cx="572.2" cy="707.7" r="4.4"/><circle cx="577.0" cy="793.6" r="4.4"/><circle cx="581.7" cy="886.0" r="4.4"/><circle cx="586.4" cy="816.3" r="4.4"/><circle cx="591.2" cy="719.3" r="4.4"/><circle cx="595.9" cy="662.7" r="4.4"/><circle cx="600.7" cy="631.7" r="4.4"/><circle cx="605.4" cy="616.9" r="4.4"/><circle cx="610.1" cy="608.8" r="4.4"/><circle cx="614.9" cy="610.1" r="4.4"/><circle cx="619.6" cy="599.1" r="4.4"/><circle cx="624.4" cy="597.1" r="4.4"/><circle cx="629.1" cy="597.8" r="4.4"/><circle cx="633.9" cy="594.6" r="4.4"/><circle cx="638.6" cy="593.3" r="4.4"/><circle cx="643.3" cy="589.1" r="4.4"/><circle cx="648.1" cy="592.7" r="4.4"/><circle cx="652.8" cy="590.6" r="4.4"/><circle cx="657.6" cy="596.4" r="4.4"/><circle cx="662.3" cy="594.2" r="4.4"/><circle cx="667.0" cy="591.4" r="4.4"/><circle cx="671.8" cy="593.9" r="4.4"/><circle cx="676.5" cy="590.1" r="4.4"/><circle cx="681.3" cy="595.4" r="4.4"/><circle cx="686.0" cy="591.5" r="4.4"/><circle cx="690.7" cy="593.9" r="4.4"/><circle cx="695.5" cy="587.0" r="4.4"/><circle cx="700.2" cy="593.6" r="4.4"/><circle cx="705.0" cy="586.4" r="4.4"/><circle cx="709.7" cy="585.8" r="4.4"/><circle cx="714.5" cy="593.5" r="4.4"/><circle cx="719.2" cy="592.7" r="4.4"/><circle cx="723.9" cy="599.0" r="4.4"/><circle cx="728.7" cy="610.4" r="4.4"/><circle cx="733.4" cy="604.3" r="4.4"/><circle cx="738.2" cy="615.1" r="4.4"/><circle cx="742.9" cy="648.4" r="4.4"/><circle cx="747.6" cy="705.0" r="4.4"/><circle cx="752.4" cy="754.8" r="4.4"/><circle cx="757.1" cy="716.6" r="4.4"/><circle cx="761.9" cy="681.5" r="4.4"/><circle cx="766.6" cy="640.3" r="4.4"/><circle cx="771.4" cy="614.4" r="4.4"/><circle cx="776.1" cy="607.7" r="4.4"/><circle cx="780.8" cy="602.3" r="4.4"/><circle cx="785.6" cy="594.7" r="4.4"/><circle cx="790.3" cy="597.4" r="4.4"/><circle cx="795.1" cy="591.7" r="4.4"/><circle cx="799.8" cy="597.6" r="4.4"/><circle cx="804.5" cy="594.0" r="4.4"/><circle cx="809.3" cy="593.1" r="4.4"/><circle cx="814.0" cy="590.3" r="4.4"/><circle cx="818.8" cy="591.9" r="4.4"/><circle cx="823.5" cy="584.8" r="4.4"/><circle cx="828.3" cy="588.3" r="4.4"/><circle cx="833.0" cy="594.3" r="4.4"/><circle cx="837.7" cy="585.3" r="4.4"/><circle cx="842.5" cy="597.4" r="4.4"/><circle cx="847.2" cy="588.7" r="4.4"/><circle cx="852.0" cy="599.9" r="4.4"/><circle cx="856.7" cy="596.4" r="4.4"/><circle cx="861.4" cy="606.8" r="4.4"/><circle cx="866.2" cy="611.5" r="4.4"/><circle cx="870.9" cy="618.4" r="4.4"/><circle cx="875.7" cy="655.4" r="4.4"/><circle cx="880.4" cy="672.9" r="4.4"/><circle cx="885.2" cy="748.7" r="4.4"/><circle cx="889.9" cy="739.7" r="4.4"/><circle cx="894.6" cy="672.4" r="4.4"/><circle cx="899.4" cy="620.8" r="4.4"/><circle cx="904.1" cy="615.3" r="4.4"/><circle cx="908.9" cy="601.8" r="4.4"/><circle cx="913.6" cy="599.4" r="4.4"/><circle cx="918.3" cy="593.9" r="4.4"/><circle cx="923.1" cy="592.7" r="4.4"/><circle cx="927.8" cy="589.0" r="4.4"/><circle cx="932.6" cy="597.8" r="4.4"/><circle cx="937.3" cy="591.8" r="4.4"/><circle cx="942.0" cy="595.7" r="4.4"/><circle cx="946.8" cy="591.7" r="4.4"/><circle cx="951.5" cy="588.9" r="4.4"/><circle cx="956.3" cy="590.1" r="4.4"/><circle cx="961.0" cy="589.2" r="4.4"/><circle cx="965.8" cy="591.4" r="4.4"/><circle cx="970.5" cy="590.0" r="4.4"/><circle cx="975.2" cy="590.5" r="4.4"/><circle cx="980.0" cy="586.6" r="4.4"/><circle cx="984.7" cy="589.1" r="4.4"/><circle cx="989.5" cy="598.9" r="4.4"/><circle cx="994.2" cy="590.6" r="4.4"/><circle cx="998.9" cy="589.9" r="4.4"/><circle cx="1003.7" cy="596.1" r="4.4"/><circle cx="1008.4" cy="601.4" r="4.4"/><circle cx="1013.2" cy="592.3" r="4.4"/><circle cx="1017.9" cy="599.4" r="4.4"/><circle cx="1022.7" cy="601.2" r="4.4"/><circle cx="1027.4" cy="602.0" r="4.4"/><circle cx="1032.1" cy="619.6" r="4.4"/><circle cx="1036.9" cy="630.5" r="4.4"/><circle cx="1041.6" cy="656.3" r="4.4"/><circle cx="1046.4" cy="704.1" r="4.4"/><circle cx="1051.1" cy="805.4" r="4.4"/><circle cx="1055.8" cy="881.0" r="4.4"/><circle cx="1060.6" cy="801.0" r="4.4"/><circle cx="1065.3" cy="701.5" r="4.4"/><circle cx="1070.1" cy="650.9" r="4.4"/><circle cx="1074.8" cy="635.5" r="4.4"/><circle cx="1079.6" cy="614.9" r="4.4"/><circle cx="1084.3" cy="610.0" r="4.4"/><circle cx="1089.0" cy="603.7" r="4.4"/><circle cx="1093.8" cy="598.8" r="4.4"/><circle cx="1098.5" cy="596.2" r="4.4"/><circle cx="1103.3" cy="598.9" r="4.4"/><circle cx="1108.0" cy="594.2" r="4.4"/><circle cx="1112.7" cy="593.9" r="4.4"/><circle cx="1117.5" cy="593.9" r="4.4"/><circle cx="1122.2" cy="597.8" r="4.4"/><circle cx="1127.0" cy="595.6" r="4.4"/><circle cx="1131.7" cy="594.3" r="4.4"/><circle cx="1136.4" cy="590.6" r="4.4"/><circle cx="1141.2" cy="587.4" r="4.4"/><circle cx="1145.9" cy="596.4" r="4.4"/><circle cx="1150.7" cy="596.6" r="4.4"/><circle cx="1155.4" cy="592.7" r="4.4"/><circle cx="1160.2" cy="595.7" r="4.4"/><circle cx="1164.9" cy="597.2" r="4.4"/><circle cx="1169.6" cy="598.1" r="4.4"/><circle cx="1174.4" cy="599.4" r="4.4"/><circle cx="1179.1" cy="595.4" r="4.4"/><circle cx="1183.9" cy="604.6" r="4.4"/><circle cx="1188.6" cy="596.4" r="4.4"/><circle cx="1193.3" cy="607.7" r="4.4"/><circle cx="1198.1" cy="610.9" r="4.4"/><circle cx="1202.8" cy="619.3" r="4.4"/><circle cx="1207.6" cy="634.2" r="4.4"/><circle cx="1212.3" cy="651.4" r="4.4"/><circle cx="1217.1" cy="676.0" r="4.4"/><circle cx="1221.8" cy="743.2" r="4.4"/><circle cx="1226.5" cy="884.9" r="4.4"/><circle cx="1231.3" cy="977.0" r="4.4"/><circle cx="1236.0" cy="883.1" r="4.4"/><circle cx="1240.8" cy="753.5" r="4.4"/><circle cx="1245.5" cy="674.3" r="4.4"/><circle cx="1250.2" cy="637.7" r="4.4"/><circle cx="1255.0" cy="627.8" r="4.4"/><circle cx="1259.7" cy="615.8" r="4.4"/><circle cx="1264.5" cy="607.6" r="4.4"/><circle cx="1269.2" cy="604.0" r="4.4"/><circle cx="1274.0" cy="597.2" r="4.4"/><circle cx="1278.7" cy="592.3" r="4.4"/><circle cx="1283.4" cy="595.6" r="4.4"/><circle cx="1288.2" cy="591.2" r="4.4"/><circle cx="1292.9" cy="587.5" r="4.4"/><circle cx="1297.7" cy="594.8" r="4.4"/><circle cx="1302.4" cy="592.0" r="4.4"/><circle cx="1307.1" cy="593.2" r="4.4"/><circle cx="1311.9" cy="587.4" r="4.4"/><circle cx="1316.6" cy="588.2" r="4.4"/><circle cx="1321.4" cy="586.6" r="4.4"/><circle cx="1326.1" cy="586.7" r="4.4"/><circle cx="1330.9" cy="590.6" r="4.4"/><circle cx="1335.6" cy="586.6" r="4.4"/><circle cx="1340.3" cy="590.7" r="4.4"/><circle cx="1345.1" cy="590.5" r="4.4"/><circle cx="1349.8" cy="596.8" r="4.4"/><circle cx="1354.6" cy="583.6" r="4.4"/><circle cx="1359.3" cy="592.2" r="4.4"/><circle cx="1364.0" cy="588.3" r="4.4"/><circle cx="1368.8" cy="588.5" r="4.4"/></g>
</g>
<g id="pc">
<path d="M245.2,1168.1 L247.3,1168.1 L252.1,1168.2 L256.8,1168.2 L261.6,1168.2 L266.3,1168.3 L271.1,1168.3 L275.9,1168.4 L280.6,1168.4 L285.4,1168.5 L290.1,1168.6 L294.9,1168.7 L299.7,1168.8 L304.4,1168.9 L309.2,1169.0 L314.0,1169.1 L318.7,1169.3 L323.5,1169.5 L328.2,1169.7 L333.0,1170.0 L337.8,1170.3 L342.5,1170.7 L347.3,1171.2 L352.1,1171.9 L356.8,1172.7 L361.6,1173.7 L366.3,1175.2 L371.1,1177.2 L375.9,1180.1 L380.6,1184.6 L385.4,1191.8 L390.2,1204.4 L394.9,1228.1 L399.7,1274.0 L404.4,1339.7 L409.2,1340.4 L414.0,1274.9 L418.7,1228.6 L423.5,1204.7 L428.2,1192.1 L433.0,1184.9 L437.8,1180.4 L442.5,1177.5 L447.3,1175.5 L452.1,1174.1 L456.8,1173.1 L461.6,1172.3 L466.3,1171.8 L471.1,1171.3 L475.9,1171.0 L480.6,1170.8 L485.4,1170.6 L490.2,1170.5 L494.9,1170.4 L499.7,1170.4 L504.4,1170.4 L509.2,1170.5 L514.0,1170.6 L518.7,1170.8 L523.5,1171.1 L528.2,1171.5 L533.0,1172.0 L537.8,1172.8 L542.5,1173.8 L547.3,1175.4 L552.1,1177.7 L556.8,1181.3 L561.6,1187.4 L566.3,1198.4 L571.1,1219.9 L575.9,1258.8 L580.6,1291.1 L585.4,1262.0 L590.2,1222.0 L594.9,1199.5 L599.7,1187.9 L604.4,1181.5 L609.2,1177.7 L614.0,1175.3 L618.7,1173.7 L623.5,1172.6 L628.3,1171.8 L633.0,1171.2 L637.8,1170.7 L642.5,1170.4 L647.3,1170.1 L652.1,1169.9 L656.8,1169.8 L661.6,1169.6 L666.3,1169.6 L671.1,1169.5 L675.9,1169.5 L680.6,1169.5 L685.4,1169.5 L690.2,1169.6 L694.9,1169.7 L699.7,1169.9 L704.4,1170.1 L709.2,1170.4 L714.0,1170.9 L718.7,1171.5 L723.5,1172.5 L728.3,1174.0 L733.0,1176.4 L737.8,1180.7 L742.5,1188.6 L747.3,1204.1 L752.1,1226.5 L756.8,1227.3 L761.6,1205.0 L766.3,1189.1 L771.1,1180.9 L775.9,1176.6 L780.6,1174.1 L785.4,1172.6 L790.2,1171.7 L794.9,1171.0 L799.7,1170.6 L804.4,1170.3 L809.2,1170.1 L814.0,1170.0 L818.7,1169.9 L823.5,1169.9 L828.3,1170.0 L833.0,1170.2 L837.8,1170.4 L842.5,1170.8 L847.3,1171.3 L852.1,1172.1 L856.8,1173.2 L861.6,1175.1 L866.4,1178.4 L871.1,1184.3 L875.9,1195.7 L880.6,1216.1 L885.4,1230.7 L890.2,1214.2 L894.9,1194.4 L899.7,1183.6 L904.4,1178.0 L909.2,1174.9 L914.0,1173.1 L918.7,1171.9 L923.5,1171.1 L928.3,1170.6 L933.0,1170.2 L937.8,1169.9 L942.5,1169.8 L947.3,1169.6 L952.1,1169.5 L956.8,1169.5 L961.6,1169.5 L966.4,1169.5 L971.1,1169.5 L975.9,1169.6 L980.6,1169.7 L985.4,1169.8 L990.2,1170.0 L994.9,1170.2 L999.7,1170.5 L1004.5,1170.9 L1009.2,1171.4 L1014.0,1172.1 L1018.7,1173.0 L1023.5,1174.4 L1028.3,1176.3 L1033.0,1179.2 L1037.8,1184.0 L1042.5,1192.2 L1047.3,1207.8 L1052.1,1238.0 L1056.8,1281.5 L1061.6,1282.8 L1066.4,1239.5 L1071.1,1208.7 L1075.9,1192.7 L1080.6,1184.3 L1085.4,1179.5 L1090.2,1176.5 L1094.9,1174.6 L1099.7,1173.3 L1104.5,1172.4 L1109.2,1171.7 L1114.0,1171.3 L1118.7,1170.9 L1123.5,1170.7 L1128.3,1170.5 L1133.0,1170.4 L1137.8,1170.3 L1142.5,1170.3 L1147.3,1170.3 L1152.1,1170.4 L1156.8,1170.5 L1161.6,1170.7 L1166.4,1170.9 L1171.1,1171.3 L1175.9,1171.7 L1180.6,1172.3 L1185.4,1173.0 L1190.2,1174.1 L1194.9,1175.5 L1199.7,1177.5 L1204.5,1180.4 L1209.2,1184.9 L1214.0,1192.3 L1218.7,1205.4 L1223.5,1230.4 L1228.3,1279.3 L1233.0,1345.8 L1237.8,1336.4 L1242.5,1268.7 L1247.3,1224.8 L1252.1,1202.4 L1256.8,1190.6 L1261.6,1183.8 L1266.4,1179.6 L1271.1,1176.8 L1275.9,1174.9 L1280.6,1173.5 L1285.4,1172.5 L1290.2,1171.7 L1294.9,1171.1 L1299.7,1170.6 L1304.5,1170.2 L1309.2,1169.9 L1314.0,1169.7 L1318.7,1169.4 L1323.5,1169.3 L1328.3,1169.1 L1333.0,1169.0 L1337.8,1168.8 L1342.6,1168.7 L1347.3,1168.6 L1352.1,1168.6 L1356.8,1168.5 L1361.6,1168.4 L1366.4,1168.4 L1369.0,1168.3 L1369.0,1167.5 L245.2,1167.5 Z" fill="#c0c0c0" stroke="#000" stroke-width="4.0" stroke-linejoin="round"/>
<path d="M245.2,1168.7 L247.3,1168.8 L252.1,1168.8 L256.8,1168.9 L261.6,1169.0 L266.3,1169.1 L271.1,1169.2 L275.9,1169.3 L280.6,1169.4 L285.4,1169.5 L290.1,1169.7 L294.9,1169.8 L299.7,1170.0 L304.4,1170.2 L309.2,1170.5 L314.0,1170.8 L318.7,1171.1 L323.5,1171.5 L328.2,1172.0 L333.0,1172.5 L337.8,1173.2 L342.5,1174.0 L347.3,1175.0 L352.1,1176.2 L356.8,1177.9 L361.6,1180.0 L366.3,1182.9 L371.1,1186.9 L375.9,1192.8 L380.6,1201.7 L385.4,1216.1 L390.2,1241.3 L394.9,1288.7 L399.7,1380.6 L404.4,1511.8 L409.2,1513.3 L414.0,1382.3 L418.7,1289.8 L423.5,1242.0 L428.2,1216.7 L433.0,1202.2 L437.8,1193.3 L442.5,1187.5 L447.3,1183.6 L452.1,1180.8 L456.8,1178.7 L461.6,1177.2 L466.3,1176.1 L471.1,1175.2 L475.9,1174.5 L480.6,1174.0 L485.4,1173.7 L490.2,1173.4 L494.9,1173.3 L499.7,1173.2 L504.4,1173.3 L509.2,1173.4 L514.0,1173.7 L518.7,1174.1 L523.5,1174.7 L528.2,1175.5 L533.0,1176.6 L537.8,1178.1 L542.5,1180.2 L547.3,1183.2 L552.1,1187.8 L556.8,1195.1 L561.6,1207.3 L566.3,1229.4 L571.1,1272.3 L575.9,1350.1 L580.6,1414.7 L585.4,1356.6 L590.2,1276.4 L594.9,1231.4 L599.7,1208.2 L604.4,1195.5 L609.2,1187.9 L614.0,1183.1 L618.7,1179.9 L623.5,1177.7 L628.3,1176.1 L633.0,1174.9 L637.8,1174.0 L642.5,1173.3 L647.3,1172.7 L652.1,1172.3 L656.8,1172.0 L661.6,1171.8 L666.3,1171.6 L671.1,1171.5 L675.9,1171.5 L680.6,1171.5 L685.4,1171.5 L690.2,1171.7 L694.9,1171.9 L699.7,1172.2 L704.4,1172.7 L709.2,1173.4 L714.0,1174.3 L718.7,1175.6 L723.5,1177.5 L728.3,1180.5 L733.0,1185.3 L737.8,1193.8 L742.5,1209.8 L747.3,1240.7 L752.1,1285.5 L756.8,1287.1 L761.6,1242.6 L766.3,1210.8 L771.1,1194.4 L775.9,1185.7 L780.6,1180.8 L785.4,1177.7 L790.2,1175.8 L794.9,1174.5 L799.7,1173.7 L804.4,1173.1 L809.2,1172.7 L814.0,1172.4 L818.7,1172.3 L823.5,1172.4 L828.3,1172.5 L833.0,1172.8 L837.8,1173.3 L842.5,1174.0 L847.3,1175.1 L852.1,1176.6 L856.8,1179.0 L861.6,1182.8 L866.4,1189.2 L871.1,1201.0 L875.9,1224.0 L880.6,1264.8 L885.4,1294.0 L890.2,1260.8 L894.9,1221.4 L899.7,1199.7 L904.4,1188.5 L909.2,1182.3 L914.0,1178.6 L918.7,1176.3 L923.5,1174.7 L928.3,1173.7 L933.0,1172.9 L937.8,1172.4 L942.5,1172.0 L947.3,1171.7 L952.1,1171.6 L956.8,1171.5 L961.6,1171.4 L966.4,1171.4 L971.1,1171.5 L975.9,1171.6 L980.6,1171.8 L985.4,1172.1 L990.2,1172.5 L994.9,1172.9 L999.7,1173.5 L1004.5,1174.3 L1009.2,1175.4 L1014.0,1176.7 L1018.7,1178.6 L1023.5,1181.2 L1028.3,1185.1 L1033.0,1190.9 L1037.8,1200.4 L1042.5,1217.0 L1047.3,1248.1 L1052.1,1308.5 L1056.8,1395.5 L1061.6,1398.1 L1066.4,1311.5 L1071.1,1249.8 L1075.9,1217.9 L1080.6,1201.1 L1085.4,1191.4 L1090.2,1185.5 L1094.9,1181.7 L1099.7,1179.1 L1104.5,1177.3 L1109.2,1176.0 L1114.0,1175.0 L1118.7,1174.3 L1123.5,1173.8 L1128.3,1173.5 L1133.0,1173.2 L1137.8,1173.1 L1142.5,1173.1 L1147.3,1173.1 L1152.1,1173.3 L1156.8,1173.5 L1161.6,1173.9 L1166.4,1174.4 L1171.1,1175.0 L1175.9,1175.9 L1180.6,1177.1 L1185.4,1178.6 L1190.2,1180.6 L1194.9,1183.4 L1199.7,1187.4 L1204.5,1193.3 L1209.2,1202.3 L1214.0,1217.1 L1218.7,1243.3 L1223.5,1293.4 L1228.3,1391.1 L1233.0,1524.1 L1237.8,1505.3 L1242.5,1369.9 L1247.3,1282.0 L1252.1,1237.4 L1256.8,1213.7 L1261.6,1200.1 L1266.4,1191.6 L1271.1,1186.1 L1275.9,1182.3 L1280.6,1179.5 L1285.4,1177.5 L1290.2,1175.9 L1294.9,1174.7 L1299.7,1173.8 L1304.5,1173.0 L1309.2,1172.3 L1314.0,1171.8 L1318.7,1171.4 L1323.5,1171.0 L1328.3,1170.7 L1333.0,1170.4 L1337.8,1170.2 L1342.6,1170.0 L1347.3,1169.8 L1352.1,1169.6 L1356.8,1169.5 L1361.6,1169.3 L1366.4,1169.2 L1369.0,1169.2" fill="none" stroke="#000" stroke-width="4.0" stroke-linejoin="round"/>
<g fill="#000"><circle cx="247.7" cy="1170.7" r="4.4"/><circle cx="252.2" cy="1168.0" r="4.4"/><circle cx="256.6" cy="1160.6" r="4.4"/><circle cx="261.9" cy="1145.4" r="4.4"/><circle cx="266.3" cy="1142.4" r="4.4"/><circle cx="270.8" cy="1151.5" r="4.4"/><circle cx="276.0" cy="1193.4" r="4.4"/><circle cx="280.5" cy="1173.2" r="4.4"/><circle cx="285.6" cy="1175.8" r="4.4"/><circle cx="290.0" cy="1165.1" r="4.4"/><circle cx="294.7" cy="1157.0" r="4.4"/><circle cx="299.7" cy="1155.6" r="4.4"/><circle cx="304.4" cy="1151.5" r="4.4"/><circle cx="309.2" cy="1159.2" r="4.4"/><circle cx="314.3" cy="1181.9" r="4.4"/><circle cx="319.0" cy="1149.1" r="4.4"/><circle cx="323.4" cy="1163.7" r="4.4"/><circle cx="328.5" cy="1175.8" r="4.4"/><circle cx="333.1" cy="1184.5" r="4.4"/><circle cx="337.8" cy="1160.0" r="4.4"/><circle cx="342.2" cy="1176.4" r="4.4"/><circle cx="347.3" cy="1163.7" r="4.4"/><circle cx="352.0" cy="1178.8" r="4.4"/><circle cx="356.8" cy="1181.3" r="4.4"/><circle cx="361.5" cy="1162.0" r="4.4"/><circle cx="366.1" cy="1198.5" r="4.4"/><circle cx="371.2" cy="1180.9" r="4.4"/><circle cx="375.5" cy="1182.0" r="4.4"/><circle cx="379.7" cy="1183.9" r="4.4"/><circle cx="385.2" cy="1211.6" r="4.4"/><circle cx="390.2" cy="1233.9" r="4.4"/><circle cx="394.9" cy="1265.5" r="4.4"/><circle cx="399.4" cy="1383.3" r="4.4"/><circle cx="403.9" cy="1505.8" r="4.4"/><circle cx="409.2" cy="1523.8" r="4.4"/><circle cx="414.0" cy="1385.5" r="4.4"/><circle cx="418.6" cy="1296.0" r="4.4"/><circle cx="423.8" cy="1258.4" r="4.4"/><circle cx="427.9" cy="1209.2" r="4.4"/><circle cx="432.3" cy="1194.0" r="4.4"/><circle cx="437.4" cy="1188.0" r="4.4"/><circle cx="442.5" cy="1181.9" r="4.4"/><circle cx="447.1" cy="1185.9" r="4.4"/><circle cx="452.0" cy="1164.3" r="4.4"/><circle cx="456.6" cy="1184.9" r="4.4"/><circle cx="461.5" cy="1172.0" r="4.4"/><circle cx="466.4" cy="1195.0" r="4.4"/><circle cx="470.8" cy="1177.8" r="4.4"/><circle cx="475.6" cy="1172.0" r="4.4"/><circle cx="480.5" cy="1177.8" r="4.4"/><circle cx="485.4" cy="1163.0" r="4.4"/><circle cx="490.1" cy="1170.0" r="4.4"/><circle cx="494.7" cy="1198.1" r="4.4"/><circle cx="499.8" cy="1160.6" r="4.4"/><circle cx="504.2" cy="1164.3" r="4.4"/><circle cx="509.3" cy="1132.3" r="4.4"/><circle cx="514.0" cy="1176.4" r="4.4"/><circle cx="518.8" cy="1170.0" r="4.4"/><circle cx="523.6" cy="1162.2" r="4.4"/><circle cx="527.8" cy="1174.4" r="4.4"/><circle cx="532.7" cy="1169.0" r="4.4"/><circle cx="537.7" cy="1181.9" r="4.4"/><circle cx="542.4" cy="1170.0" r="4.4"/><circle cx="547.1" cy="1159.2" r="4.4"/><circle cx="552.1" cy="1166.3" r="4.4"/><circle cx="557.0" cy="1182.0" r="4.4"/><circle cx="561.6" cy="1197.1" r="4.4"/><circle cx="566.7" cy="1215.3" r="4.4"/><circle cx="571.3" cy="1286.1" r="4.4"/><circle cx="575.4" cy="1402.8" r="4.4"/><circle cx="580.6" cy="1414.5" r="4.4"/><circle cx="585.8" cy="1331.2" r="4.4"/><circle cx="590.6" cy="1247.7" r="4.4"/><circle cx="595.4" cy="1239.0" r="4.4"/><circle cx="599.7" cy="1204.6" r="4.4"/><circle cx="604.6" cy="1180.9" r="4.4"/><circle cx="609.2" cy="1197.1" r="4.4"/><circle cx="613.9" cy="1198.5" r="4.4"/><circle cx="618.7" cy="1176.0" r="4.4"/><circle cx="623.4" cy="1191.6" r="4.4"/><circle cx="628.4" cy="1151.5" r="4.4"/><circle cx="632.9" cy="1189.6" r="4.4"/><circle cx="637.6" cy="1194.0" r="4.4"/><circle cx="642.6" cy="1184.9" r="4.4"/><circle cx="647.3" cy="1164.7" r="4.4"/><circle cx="651.7" cy="1175.2" r="4.4"/><circle cx="656.8" cy="1164.7" r="4.4"/><circle cx="661.4" cy="1179.2" r="4.4"/><circle cx="666.3" cy="1191.6" r="4.4"/><circle cx="671.4" cy="1168.7" r="4.4"/><circle cx="676.0" cy="1165.1" r="4.4"/><circle cx="680.7" cy="1161.6" r="4.4"/><circle cx="685.5" cy="1164.3" r="4.4"/><circle cx="690.2" cy="1187.5" r="4.4"/><circle cx="694.9" cy="1165.1" r="4.4"/><circle cx="699.7" cy="1149.1" r="4.4"/><circle cx="704.4" cy="1157.2" r="4.4"/><circle cx="709.0" cy="1173.8" r="4.4"/><circle cx="713.9" cy="1197.1" r="4.4"/><circle cx="718.9" cy="1202.1" r="4.4"/><circle cx="723.6" cy="1158.0" r="4.4"/><circle cx="728.3" cy="1214.7" r="4.4"/><circle cx="732.7" cy="1191.0" r="4.4"/><circle cx="737.4" cy="1201.1" r="4.4"/><circle cx="742.2" cy="1208.2" r="4.4"/><circle cx="746.9" cy="1264.3" r="4.4"/><circle cx="752.1" cy="1316.2" r="4.4"/><circle cx="756.9" cy="1283.4" r="4.4"/><circle cx="761.9" cy="1238.8" r="4.4"/><circle cx="767.1" cy="1197.1" r="4.4"/><circle cx="771.8" cy="1190.0" r="4.4"/><circle cx="776.2" cy="1197.1" r="4.4"/><circle cx="780.7" cy="1176.0" r="4.4"/><circle cx="785.3" cy="1183.4" r="4.4"/><circle cx="790.1" cy="1184.9" r="4.4"/><circle cx="795.2" cy="1185.9" r="4.4"/><circle cx="799.6" cy="1174.8" r="4.4"/><circle cx="804.3" cy="1151.5" r="4.4"/><circle cx="809.4" cy="1173.8" r="4.4"/><circle cx="814.0" cy="1166.3" r="4.4"/><circle cx="818.9" cy="1181.3" r="4.4"/><circle cx="823.5" cy="1161.6" r="4.4"/><circle cx="828.6" cy="1165.7" r="4.4"/><circle cx="833.2" cy="1196.7" r="4.4"/><circle cx="837.7" cy="1171.8" r="4.4"/><circle cx="842.4" cy="1186.3" r="4.4"/><circle cx="847.4" cy="1154.9" r="4.4"/><circle cx="852.3" cy="1163.7" r="4.4"/><circle cx="856.9" cy="1170.7" r="4.4"/><circle cx="862.0" cy="1176.8" r="4.4"/><circle cx="866.7" cy="1178.8" r="4.4"/><circle cx="872.1" cy="1199.1" r="4.4"/><circle cx="876.4" cy="1212.0" r="4.4"/><circle cx="880.9" cy="1230.2" r="4.4"/><circle cx="885.3" cy="1307.9" r="4.4"/><circle cx="890.0" cy="1292.3" r="4.4"/><circle cx="895.0" cy="1228.4" r="4.4"/><circle cx="899.9" cy="1191.0" r="4.4"/><circle cx="904.9" cy="1200.5" r="4.4"/><circle cx="909.6" cy="1181.9" r="4.4"/><circle cx="914.2" cy="1167.7" r="4.4"/><circle cx="919.1" cy="1187.5" r="4.4"/><circle cx="924.2" cy="1179.9" r="4.4"/><circle cx="928.8" cy="1182.3" r="4.4"/><circle cx="933.3" cy="1190.4" r="4.4"/><circle cx="937.9" cy="1157.0" r="4.4"/><circle cx="942.6" cy="1166.7" r="4.4"/><circle cx="947.0" cy="1162.2" r="4.4"/><circle cx="952.1" cy="1179.4" r="4.4"/><circle cx="957.2" cy="1180.9" r="4.4"/><circle cx="961.6" cy="1175.2" r="4.4"/><circle cx="966.3" cy="1184.5" r="4.4"/><circle cx="970.9" cy="1151.5" r="4.4"/><circle cx="975.8" cy="1165.7" r="4.4"/><circle cx="980.4" cy="1166.3" r="4.4"/><circle cx="985.5" cy="1159.6" r="4.4"/><circle cx="990.6" cy="1156.6" r="4.4"/><circle cx="995.0" cy="1181.9" r="4.4"/><circle cx="1000.1" cy="1159.2" r="4.4"/><circle cx="1004.3" cy="1192.0" r="4.4"/><circle cx="1009.4" cy="1176.4" r="4.4"/><circle cx="1014.3" cy="1185.3" r="4.4"/><circle cx="1019.0" cy="1178.0" r="4.4"/><circle cx="1023.6" cy="1192.4" r="4.4"/><circle cx="1028.6" cy="1202.5" r="4.4"/><circle cx="1033.1" cy="1164.7" r="4.4"/><circle cx="1037.5" cy="1207.8" r="4.4"/><circle cx="1042.6" cy="1232.9" r="4.4"/><circle cx="1047.3" cy="1243.6" r="4.4"/><circle cx="1052.2" cy="1341.3" r="4.4"/><circle cx="1056.6" cy="1384.8" r="4.4"/><circle cx="1061.7" cy="1402.2" r="4.4"/><circle cx="1066.4" cy="1298.6" r="4.4"/><circle cx="1071.7" cy="1255.8" r="4.4"/><circle cx="1076.3" cy="1201.1" r="4.4"/><circle cx="1080.8" cy="1201.1" r="4.4"/><circle cx="1085.8" cy="1208.6" r="4.4"/><circle cx="1090.5" cy="1188.0" r="4.4"/><circle cx="1094.9" cy="1193.4" r="4.4"/><circle cx="1100.0" cy="1160.6" r="4.4"/><circle cx="1104.7" cy="1165.7" r="4.4"/><circle cx="1109.3" cy="1186.9" r="4.4"/><circle cx="1114.4" cy="1175.0" r="4.4"/><circle cx="1119.2" cy="1196.0" r="4.4"/><circle cx="1123.9" cy="1181.3" r="4.4"/><circle cx="1129.0" cy="1176.8" r="4.4"/><circle cx="1133.6" cy="1175.2" r="4.4"/><circle cx="1138.5" cy="1174.8" r="4.4"/><circle cx="1143.1" cy="1174.0" r="4.4"/><circle cx="1147.6" cy="1183.3" r="4.4"/><circle cx="1152.2" cy="1153.1" r="4.4"/><circle cx="1157.3" cy="1178.8" r="4.4"/><circle cx="1162.0" cy="1190.0" r="4.4"/><circle cx="1166.4" cy="1191.0" r="4.4"/><circle cx="1171.5" cy="1181.3" r="4.4"/><circle cx="1175.9" cy="1169.7" r="4.4"/><circle cx="1180.6" cy="1192.6" r="4.4"/><circle cx="1185.3" cy="1175.0" r="4.4"/><circle cx="1190.1" cy="1182.3" r="4.4"/><circle cx="1195.2" cy="1192.0" r="4.4"/><circle cx="1199.8" cy="1219.7" r="4.4"/><circle cx="1204.9" cy="1197.1" r="4.4"/><circle cx="1209.5" cy="1201.1" r="4.4"/><circle cx="1214.0" cy="1220.8" r="4.4"/><circle cx="1218.7" cy="1266.9" r="4.4"/><circle cx="1223.9" cy="1306.2" r="4.4"/><circle cx="1228.4" cy="1390.5" r="4.4"/><circle cx="1233.2" cy="1508.0" r="4.4"/><circle cx="1237.9" cy="1473.0" r="4.4"/><circle cx="1242.7" cy="1362.7" r="4.4"/><circle cx="1247.8" cy="1266.9" r="4.4"/><circle cx="1252.5" cy="1217.3" r="4.4"/><circle cx="1256.9" cy="1216.3" r="4.4"/><circle cx="1262.0" cy="1203.1" r="4.4"/><circle cx="1266.6" cy="1184.9" r="4.4"/><circle cx="1271.4" cy="1186.0" r="4.4"/><circle cx="1276.2" cy="1186.9" r="4.4"/><circle cx="1280.8" cy="1183.3" r="4.4"/><circle cx="1285.5" cy="1164.3" r="4.4"/><circle cx="1290.3" cy="1160.0" r="4.4"/><circle cx="1295.0" cy="1156.2" r="4.4"/><circle cx="1300.0" cy="1185.3" r="4.4"/><circle cx="1304.7" cy="1188.4" r="4.4"/><circle cx="1309.6" cy="1160.4" r="4.4"/><circle cx="1314.2" cy="1172.7" r="4.4"/><circle cx="1318.9" cy="1165.6" r="4.4"/><circle cx="1323.7" cy="1153.1" r="4.4"/><circle cx="1328.6" cy="1161.8" r="4.4"/><circle cx="1333.6" cy="1166.5" r="4.4"/><circle cx="1337.8" cy="1189.9" r="4.4"/><circle cx="1342.7" cy="1156.5" r="4.4"/><circle cx="1347.6" cy="1181.5" r="4.4"/><circle cx="1352.4" cy="1172.6" r="4.4"/><circle cx="1357.2" cy="1163.9" r="4.4"/><circle cx="1361.9" cy="1183.4" r="4.4"/><circle cx="1366.1" cy="1177.7" r="4.4"/></g>
</g>
<rect x="245.2" y="11.3" width="1123.8" height="1560.7" fill="none" stroke="#000" stroke-width="4.2" stroke-linejoin="round"/>
<path d="M296.3,1572.0 v-21.3 M296.3,11.3 v21.3 M551.7,1572.0 v-21.3 M551.7,11.3 v21.3 M807.1,1572.0 v-21.3 M807.1,11.3 v21.3 M1062.5,1572.0 v-21.3 M1062.5,11.3 v21.3 M1317.9,1572.0 v-21.3 M1317.9,11.3 v21.3 M424.0,1572.0 v-10.4 M424.0,11.3 v10.4 M679.4,1572.0 v-10.4 M679.4,11.3 v10.4 M934.8,1572.0 v-10.4 M934.8,11.3 v10.4 M1190.2,1572.0 v-10.4 M1190.2,11.3 v10.4 M245.2,254.1 h10.4 M1369.0,254.1 h-10.4 M245.2,427.3 h21.3 M1369.0,427.3 h-21.3 M245.2,654.9 h10.4 M1369.0,654.9 h-10.4 M245.2,723.3 h21.3 M1369.0,723.3 h-21.3 M245.2,791.7 h10.4 M1369.0,791.7 h-10.4 M245.2,860.1 h21.3 M1369.0,860.1 h-21.3 M245.2,928.5 h10.4 M1369.0,928.5 h-10.4 M245.2,996.9 h21.3 M1369.0,996.9 h-21.3 M245.2,1311.9 h10.4 M1369.0,1311.9 h-10.4 M245.2,1456.5 h21.3 M1369.0,1456.5 h-21.3" fill="none" stroke="#000" stroke-width="4.2" stroke-linecap="round"/>
<path d="M245.2,81.0 H1369.0" stroke="#000" stroke-width="4.0" fill="none"/>
<path d="M245.2,586.5 H1369.0" stroke="#000" stroke-width="4.0" fill="none"/>
<path d="M245.2,1167.5 H1369.0" stroke="#000" stroke-width="4.0" fill="none"/>
<text x="223" y="102" text-anchor="end" font-size="69" font-family="Liberation Serif, serif">1.00</text>
<text x="223" y="448.5" text-anchor="end" font-size="69" font-family="Liberation Serif, serif">0.95</text>
<text x="223" y="607.5" text-anchor="end" font-size="69" font-family="Liberation Serif, serif">1.00</text>
<text x="223" y="744.5" text-anchor="end" font-size="69" font-family="Liberation Serif, serif">0.95</text>
<text x="223" y="881.3" text-anchor="end" font-size="69" font-family="Liberation Serif, serif">0.90</text>
<text x="223" y="1018" text-anchor="end" font-size="69" font-family="Liberation Serif, serif">0.85</text>
<text x="223" y="1188.5" text-anchor="end" font-size="69" font-family="Liberation Serif, serif">1.00</text>
<text x="223" y="1477.5" text-anchor="end" font-size="69" font-family="Liberation Serif, serif">0.95</text>
<text x="296.3" y="1649" text-anchor="middle" font-size="69" font-family="Liberation Serif, serif">-10</text>
<text x="551.7" y="1649" text-anchor="middle" font-size="69" font-family="Liberation Serif, serif">-5</text>
<text x="807.1" y="1649" text-anchor="middle" font-size="69" font-family="Liberation Serif, serif">0</text>
<text x="1062.5" y="1649" text-anchor="middle" font-size="69" font-family="Liberation Serif, serif">5</text>
<text x="1317.9" y="1649" text-anchor="middle" font-size="69" font-family="Liberation Serif, serif">10</text>
<text x="807.3" y="1742" text-anchor="middle" font-size="87" font-family="Liberation Serif, serif"><tspan font-style="italic">v</tspan>, mm/s</text>
<text transform="translate(74,848) rotate(-90)" text-anchor="middle" font-size="87.6" font-family="Liberation Serif, serif">Relative transmission</text>
<text x="1291" y="503.7" text-anchor="middle" font-size="93.3" font-family="Liberation Serif, serif">a)</text>
<text x="1289" y="1065.5" text-anchor="middle" font-size="93.3" font-family="Liberation Serif, serif">b)</text>
<text x="1288" y="1509.8" text-anchor="middle" font-size="93.3" font-family="Liberation Serif, serif">c)</text>
</svg>
</body></html>
